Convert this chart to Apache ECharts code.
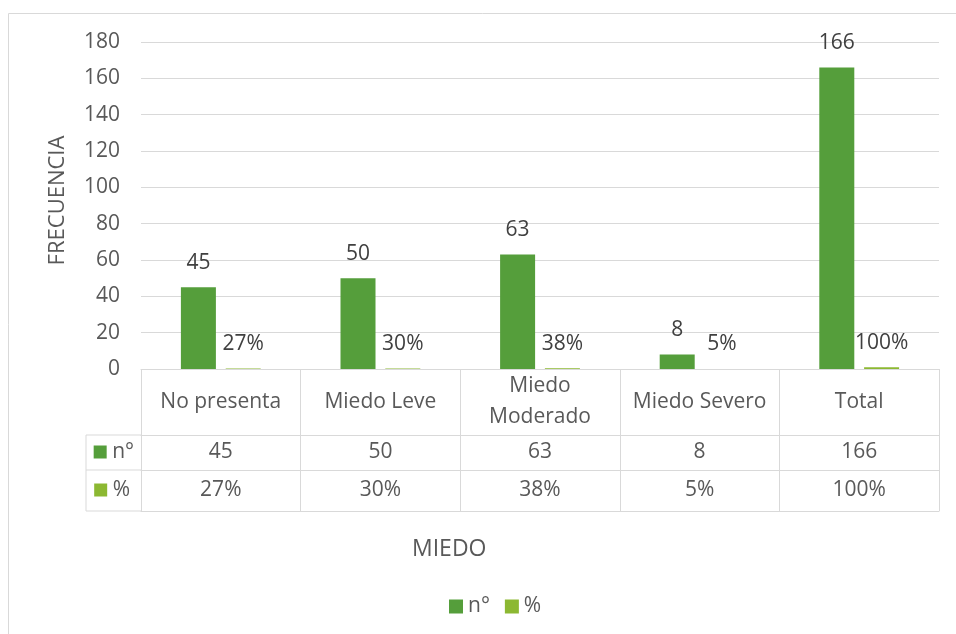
<!DOCTYPE html>
<html>
<head>
<meta charset="utf-8">
<script src="https://cdn.jsdelivr.net/npm/echarts@6/dist/echarts.min.js"></script>
<style>html,body{margin:0;padding:0;background:#fff}#c{width:956px;height:634px}</style>
</head>
<body>
<div id="c"></div>
<script>
const categories = ['No presenta', 'Miedo Leve', 'Miedo\nModerado', 'Miedo Severo', 'Total'];
const nValues = [45, 50, 63, 8, 166];
const pctValues = [0.27, 0.30, 0.38, 0.05, 1.00];
const seriesNames = ['n°', '%'];
const yMin = 0, yMax = 180, yInterval = 20;

const FONT = 'Open Sans';
const TXT = '#595959';
const LINE = '#d9d9d9';
const C1 = '#559e3b';
const C2 = '#8cb832';
const GL = 141, GR = 939, GT = 42, GB = 369;
const FS = 21;
const pct = v => Math.round(v * 100) + '%';

const chart = echarts.init(document.getElementById('c'));
const baseX = {
  type: 'category', data: categories, position: 'bottom',
  axisLine: { show: true, lineStyle: { color: LINE, width: 1 } },
  axisTick: { show: false },
  splitLine: { show: false }
};
chart.setOption({
  animation: false,
  textStyle: { fontFamily: FONT },
  title: { text: 'MIEDO', left: 407, top: 533, textStyle: { fontFamily: FONT, fontSize: 23, fontWeight: 'normal', color: TXT } },
  legend: {
    data: seriesNames, left: 444, top: 591, itemWidth: 14, itemHeight: 14, itemGap: 15,
    icon: 'rect', textStyle: { fontFamily: FONT, fontSize: FS, color: TXT }
  },
  grid: { left: GL, right: 956 - GR, top: GT, bottom: 634 - GB },
  xAxis: [
    Object.assign({}, baseX, {
      axisTick: { show: true, interval: 0, length: 142, lineStyle: { color: LINE } },
      axisLabel: { interval: 0, margin: 33, verticalAlign: 'middle', lineHeight: 31, fontSize: FS, color: TXT, fontFamily: FONT }
    }),
    Object.assign({}, baseX, {
      offset: 66,
      axisLabel: { interval: 0, margin: 17, verticalAlign: 'middle', fontSize: FS, color: TXT, fontFamily: FONT, formatter: (v, i) => String(nValues[i]) },
      name: '{k|} ' + seriesNames[0], nameLocation: 'start', nameGap: 7,
      nameTextStyle: { fontFamily: FONT, fontSize: FS, color: TXT, padding: [34, 0, 0, 0], rich: { k: { backgroundColor: C1, width: 13, height: 13 } } }
    }),
    Object.assign({}, baseX, {
      offset: 101,
      axisLabel: { interval: 0, margin: 20, verticalAlign: 'middle', fontSize: FS, color: TXT, fontFamily: FONT, formatter: (v, i) => pct(pctValues[i]) },
      name: '{k|} ' + seriesNames[1], nameLocation: 'start', nameGap: 11,
      nameTextStyle: { fontFamily: FONT, fontSize: FS, color: TXT, padding: [40, 0, 0, 0], rich: { k: { backgroundColor: C2, width: 13, height: 13 } } }
    }),
    Object.assign({}, baseX, { offset: 142, axisLabel: { show: false } })
  ],
  yAxis: {
    type: 'value', min: yMin, max: yMax, interval: yInterval,
    name: 'FRECUENCIA', nameLocation: 'middle', nameGap: 72,
    nameTextStyle: { fontFamily: FONT, fontSize: 22, color: TXT, padding: [0, 0, 0, 10] },
    axisLine: { show: false }, axisTick: { show: false },
    axisLabel: { margin: 21, fontSize: FS, color: TXT, fontFamily: FONT },
    splitLine: { lineStyle: { color: LINE, width: 1 } }
  },
  graphic: [
    { type: 'rect', shape: { x: 8.5, y: 13.5, width: 1000, height: 700 }, style: { fill: 'none', stroke: LINE, lineWidth: 1 }, silent: true },
    { type: 'line', shape: { x1: 86, y1: 435, x2: GL, y2: 435 }, style: { stroke: LINE, lineWidth: 1 } },
    { type: 'line', shape: { x1: 86, y1: 470, x2: GL, y2: 470 }, style: { stroke: LINE, lineWidth: 1 } },
    { type: 'line', shape: { x1: 86, y1: 511, x2: GL, y2: 511 }, style: { stroke: LINE, lineWidth: 1 } },
    { type: 'line', shape: { x1: 86, y1: 435, x2: 86, y2: 511 }, style: { stroke: LINE, lineWidth: 1 } }
  ],
  series: [
    {
      name: seriesNames[0], type: 'bar', data: nValues, barWidth: 35, barGap: '28%',
      itemStyle: { color: C1 },
      label: { show: true, position: 'top', distance: 14, fontSize: FS, color: '#404040', fontFamily: FONT }
    },
    {
      name: seriesNames[1], type: 'bar', data: pctValues, barWidth: 35,
      itemStyle: { color: C2 },
      label: { show: true, position: 'top', distance: 14, fontSize: FS, color: '#404040', fontFamily: FONT, formatter: p => pct(p.value) }
    }
  ]
});
</script>
</body>
</html>
